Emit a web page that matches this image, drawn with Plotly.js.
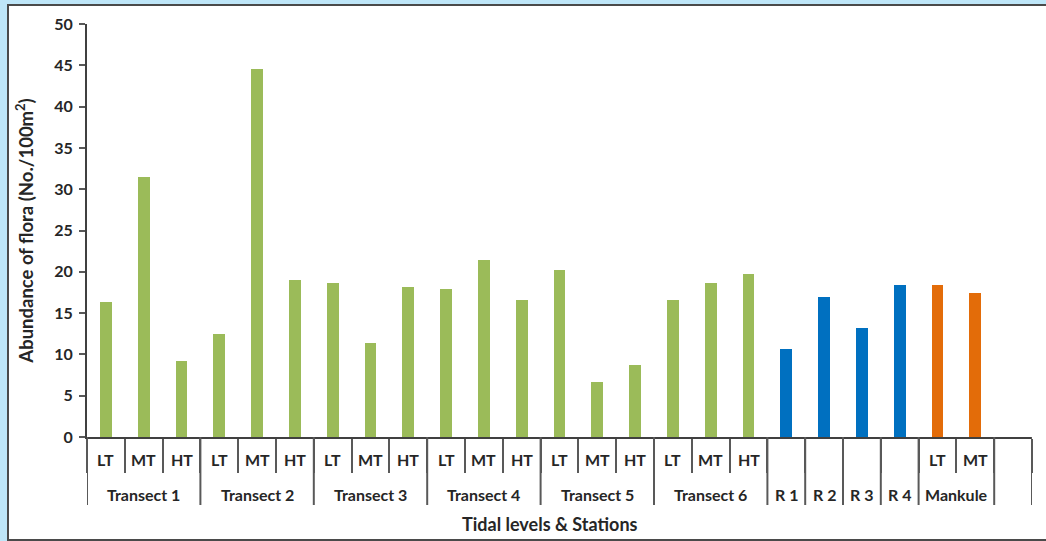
<!DOCTYPE html>
<html>
<head>
<meta charset="utf-8">
<script src="https://cdn.plot.ly/plotly-3.0.1.min.js"></script>
<style>
  html, body { margin:0; padding:0; background:#BEE6F8; width:1046px; height:541px; overflow:hidden; }
  #panel { position:absolute; left:7px; top:4px; width:1045px; height:533px; background:#fff;
           border-left:2px solid #4a4a4a; border-top:2px solid #4a4a4a; border-bottom:2px solid #4a4a4a; }
  #chart { position:absolute; left:0; top:0; width:1046px; height:541px; }
</style>
</head>
<body>
<div id="panel"></div>
<div id="chart"></div>
<script>
// ---- data ----
const transectNames = ['Transect 1','Transect 2','Transect 3','Transect 4','Transect 5','Transect 6'];
const tidalLevels = ['LT','MT','HT'];
const transectValues = [16.4, 31.5, 9.2,  12.5, 44.5, 19.0,  18.6, 11.4, 18.2,
                        17.9, 21.4, 16.6,  20.2, 6.7, 8.7,   16.6, 18.6, 19.7];
const refNames = ['R 1','R 2','R 3','R 4'];
const refValues = [10.7, 16.9, 13.2, 18.4];
const mankuleName = 'Mankule';
const mankuleLevels = ['LT','MT'];
const mankuleValues = [18.4, 17.4];
const yTicks = [0,5,10,15,20,25,30,35,40,45,50];

// ---- slot positions ----
const nT = transectValues.length, nR = refValues.length, nM = mankuleValues.length;
const xT = transectValues.map((_, i) => i);
const xR = refValues.map((_, i) => nT + i);
const xM = mankuleValues.map((_, i) => nT + nR + i);
const nSlots = nT + nR + nM + 1; // one empty slot at the end

const barW = 0.31;
const traces = [
  {type:'bar', x:xT, y:transectValues, width:barW, marker:{color:'#9BBB59'}, hoverinfo:'y'},
  {type:'bar', x:xR, y:refValues, width:barW, marker:{color:'#0070C0'}, hoverinfo:'y'},
  {type:'bar', x:xM, y:mankuleValues, width:barW, marker:{color:'#E36C09'}, hoverinfo:'y'}
];

// boundaries
const bounds = [];
for (let i = 0; i <= nSlots; i++) bounds.push(i - 0.5);

// long divider boundaries
const longB = [-0.5];
for (let g = 0; g < transectNames.length; g++) longB.push(g*3 + 2.5);
for (let r = 0; r < nR; r++) longB.push(nT + r + 0.5);
longB.push(nT + nR + nM - 0.5);
longB.push(nSlots - 0.5);

const lineCol = '#595959';
const shapes = longB.map(b => ({
  type:'line', xref:'x', yref:'paper', ysizemode:'pixel', yanchor:0,
  x0:b, x1:b, y0:0, y1:-68, line:{color:lineCol, width:2}
}));

const fam = 'Lato, "Open Sans", sans-serif';
const lblFont = {family:fam, size:16, color:'#262626'};
const annotations = [];
// level labels
for (let g = 0; g < transectNames.length; g++) {
  tidalLevels.forEach((lv, j) => annotations.push({
    x: g*3 + j, xref:'x', y:0, yref:'paper', yshift:-22, yanchor:'middle',
    text:'<b>'+lv+'</b>', showarrow:false, font:lblFont
  }));
  annotations.push({
    x: g*3 + 1, xref:'x', y:0, yref:'paper', yshift:-57, yanchor:'middle',
    text:'<b>'+transectNames[g]+'</b>', showarrow:false, font:lblFont
  });
}
refNames.forEach((nm, i) => annotations.push({
  x: xR[i], xref:'x', y:0, yref:'paper', yshift:-57, yanchor:'middle',
  text:'<b>'+nm+'</b>', showarrow:false, font:lblFont
}));
mankuleLevels.forEach((lv, j) => annotations.push({
  x: xM[j], xref:'x', y:0, yref:'paper', yshift:-22, yanchor:'middle',
  text:'<b>'+lv+'</b>', showarrow:false, font:lblFont
}));
annotations.push({
  x: (xM[0] + xM[nM-1]) / 2, xref:'x', y:0, yref:'paper', yshift:-57, yanchor:'middle',
  text:'<b>'+mankuleName+'</b>', showarrow:false, font:lblFont
});
// x axis title
annotations.push({
  x: 0.49, xref:'paper', y:0, yref:'paper', yshift:-87, yanchor:'middle',
  text:'<b>Tidal levels &amp; Stations</b>', showarrow:false,
  font:{family:fam, size:18, color:'#262626'}
});

const layout = {
  width:1046, height:541,
  margin:{l:87, r:14, t:24, b:104, pad:0},
  paper_bgcolor:'rgba(0,0,0,0)', plot_bgcolor:'rgba(0,0,0,0)',
  showlegend:false,
  bargap:0,
  xaxis:{
    range:[-0.5, nSlots - 0.5], tickmode:'array', tickvals:bounds, ticktext:bounds.map(()=>''),
    ticks:'outside', ticklen:34, tickwidth:2, tickcolor:lineCol,
    showline:true, linecolor:'#404040', linewidth:2, showgrid:false, zeroline:false,
    fixedrange:true
  },
  yaxis:{
    range:[0, 50], tickmode:'array', tickvals:yTicks, ticktext:yTicks.map(v => '<b>'+v+'</b>'),
    ticks:'outside', ticklen:6, tickwidth:2, tickcolor:lineCol,
    showline:true, linecolor:'#404040', linewidth:2, showgrid:false, zeroline:false,
    ticklabelstandoff:3,
    tickfont:{family:fam, size:16, color:'#262626'},
    title:{text:'<b>Abundance of flora (No./100m<sup>2</sup>)</b>', standoff:16,
           font:{family:fam, size:18.5, color:'#262626'}},
    fixedrange:true
  },
  shapes:shapes,
  annotations:annotations
};

Plotly.newPlot('chart', traces, layout, {displayModeBar:false, staticPlot:true});
</script>
</body>
</html>
